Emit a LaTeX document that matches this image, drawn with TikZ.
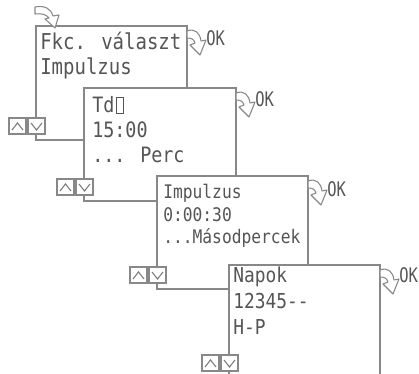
\documentclass[tikz,border=0pt]{standalone}
\usepackage{fontspec}
\usepackage{graphicx}
\newfontfamily\lcdmono{DejaVu Sans Mono}
\definecolor{framegray}{HTML}{888888}
\definecolor{textgray}{HTML}{555555}
\newcommand{\tallA}[1]{\scalebox{1}[1.15]{#1}}
\newcommand{\tallOK}[1]{\scalebox{1}[1.3]{#1}}
\tikzset{
  frame/.style={draw=framegray, line width=1.1pt, fill=white},
  btn/.style={draw=framegray, line width=0.9pt, fill=white},
  chev/.style={draw=framegray!90!black, line width=0.8pt},
  arrowline/.style={draw=framegray, line width=0.8pt, fill=white, line join=round},
  txtA/.style={anchor=base west, inner sep=0pt, text=textgray, font=\lcdmono\fontsize{14.25pt}{16pt}\selectfont},
  txtB/.style={anchor=base west, inner sep=0pt, text=textgray, font=\lcdmono\fontsize{13.8pt}{16pt}\selectfont},
  txtC/.style={anchor=base west, inner sep=0pt, text=textgray, font=\lcdmono\fontsize{12.2pt}{14pt}\selectfont},
  txtD/.style={anchor=base west, inner sep=0pt, text=textgray, font=\lcdmono\fontsize{13.4pt}{15pt}\selectfont},
  oktext/.style={anchor=base west, inner sep=0pt, text=textgray, font=\lcdmono\fontsize{11.6pt}{14pt}\selectfont},
  pics/okarrow/.style={code={
    \draw[arrowline] (0,5) .. controls (8,2) and (13,7) .. (14,15) -- (19,14) -- (13,29) -- (3,19) -- (8,17) .. controls (7,13) and (4,12) .. (0,12) -- cycle;
  }},
  pics/updown/.style={code={
    \draw[btn] (-27,0) rectangle (-10,16);
    \draw[chev] (-24,12) -- (-18.5,5) -- (-13,12);
    \draw[btn] (-8,0) rectangle (9,16);
    \draw[chev] (-5,5) -- (0.5,12) -- (6,5);
  }}
}
\begin{document}
\begin{tikzpicture}[x=0.75pt, y=-0.75pt]
\useasboundingbox (0,0) rectangle (419,374);
\clip (0,0) rectangle (419,374);
% box 1
\draw[frame] (36,26) rectangle (187,140);
\node[txtA] (b1l1) at (40,50) {\tallA{Fkc. választ}};
\node[txtA] (b1l2) at (40,75) {\tallA{Impulzus}};
\pic at (187,26) {okarrow};
\node[oktext] (ok1) at (206,46) {\tallOK{OK}};
\draw[arrowline] (35,7) .. controls (45,5) and (51,9) .. (53,16) -- (59,15) -- (55,28) -- (45,19) -- (49,18) .. controls (47,15) and (42,13) .. (35,14) -- cycle;
\pic at (36,118) {updown};
% box 2
\draw[frame] (84,88) rectangle (236,201);
\node[txtB] (b2l1) at (92,113) {\tallA{Td\hspace{1.5pt}{\setlength\fboxsep{0pt}\setlength\fboxrule{0.7pt}\fbox{\rule{0pt}{10pt}\hspace{4pt}}}}};
\node[txtB] (b2l2) at (92,138) {\tallA{15:00}};
\node[txtB] (b2l3) at (92,163) {\tallA{... Perc}};
\pic at (236,88) {okarrow};
\node[oktext] (ok2) at (255,107) {\tallOK{OK}};
\pic at (84,179) {updown};
% box 3
\draw[frame] (157,176) rectangle (308,289);
\node[txtC] (b3l1) at (163,199) {\tallA{Impulzus}};
\node[txtC] (b3l2) at (163,222) {\tallA{0:00:30}};
\node[txtC] (b3l3) at (163,244) {\tallA{...Másodpercek}};
\pic at (308,176) {okarrow};
\node[oktext] (ok3) at (327,197) {\tallOK{OK}};
\pic at (157,267) {updown};
% box 4
\draw[frame] (229,265) rectangle (380,400);
\node[txtD] (b4l1) at (233,283) {\tallA{Napok}};
\node[txtD] (b4l2) at (233,309) {\tallA{12345--}};
\node[txtD] (b4l3) at (233,335) {\tallA{H-P}};
\pic at (380,265) {okarrow};
\node[oktext] (ok4) at (399,283) {\tallOK{OK}};
\pic at (229,355) {updown};
\end{tikzpicture}
\end{document}
